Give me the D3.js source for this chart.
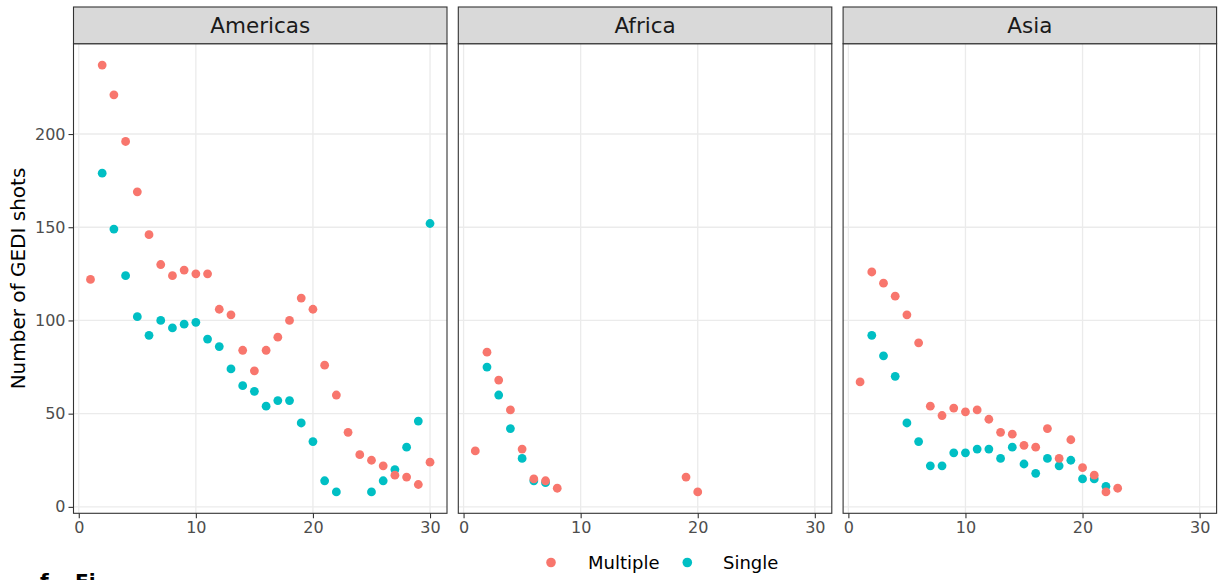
<!DOCTYPE html>
<html>
<head>
<meta charset="utf-8">
<script src="https://cdn.jsdelivr.net/npm/d3@7"></script>
<style>
  html, body { margin: 0; padding: 0; background: #fff; overflow: hidden; }
  svg { display: block; }
  text { font-family: "DejaVu Sans", sans-serif; }
</style>
</head>
<body>
<svg id="chart" width="1219" height="580"></svg>
<script>
// ---- data ----
const regions = ["Americas", "Africa", "Asia"];
const seriesNames = ["Multiple", "Single"];
const xTicks = [0, 10, 20, 30];
const yTicks = [0, 50, 100, 150, 200];

const americasMultipleX = [1,2,3,4,5,6,7,8,9,10,11,12,13,14,15,16,17,18,19,20,21,22,23,24,25,26,27,28,29,30];
const americasMultiple  = [122,237,221,196,169,146,130,124,127,125,125,106,103,84,73,84,91,100,112,106,76,60,40,28,25,22,17,16,12,24];
const americasSingleX   = [2,3,4,5,6,7,8,9,10,11,12,13,14,15,16,17,18,19,20,21,22,25,26,27,28,29,30];
const americasSingle    = [179,149,124,102,92,100,96,98,99,90,86,74,65,62,54,57,57,45,35,14,8,8,14,20,32,46,152];

const africaMultipleX = [1,2,3,4,5,6,7,8,19,20];
const africaMultiple  = [30,83,68,52,31,15,14,10,16,8];
const africaSingleX   = [2,3,4,5,6,7];
const africaSingle    = [75,60,42,26,14,13];

const asiaMultipleX = [1,2,3,4,5,6,7,8,9,10,11,12,13,14,15,16,17,18,19,20,21,22,23];
const asiaMultiple  = [67,126,120,113,103,88,54,49,53,51,52,47,40,39,33,32,42,26,36,21,17,8,10];
const asiaSingleX   = [2,3,4,5,6,7,8,9,10,11,12,13,14,15,16,17,18,19,20,21,22];
const asiaSingle    = [92,81,70,45,35,22,22,29,29,31,31,26,32,23,18,26,22,25,15,15,11];

// ---- build records ----
const panelData = {
  Americas: { Multiple: americasMultipleX.map((x,i)=>({x, y: americasMultiple[i]})),
              Single:   americasSingleX.map((x,i)=>({x, y: americasSingle[i]})) },
  Africa:   { Multiple: africaMultipleX.map((x,i)=>({x, y: africaMultiple[i]})),
              Single:   africaSingleX.map((x,i)=>({x, y: africaSingle[i]})) },
  Asia:     { Multiple: asiaMultipleX.map((x,i)=>({x, y: asiaMultiple[i]})),
              Single:   asiaSingleX.map((x,i)=>({x, y: asiaSingle[i]})) }
};

const color = d3.scaleOrdinal().domain(seriesNames).range(["#F8766D", "#00BFC4"]);

// ---- layout ----
const svg = d3.select("#chart");
const panelLeft = 73.5, panelW = 373.5, gap = 11.3;
const stripTop = 7, stripBottom = 43.7, panelBottom = 513.3;

const allX = [].concat(americasMultipleX, americasSingleX, africaMultipleX, africaSingleX, asiaMultipleX, asiaSingleX);
const allY = [].concat(americasMultiple, americasSingle, africaMultiple, africaSingle, asiaMultiple, asiaSingle);
const [xmin, xmax] = d3.extent(allX), [ymin, ymax] = d3.extent(allY);
const xpad = (xmax - xmin) * 0.05, ypad = (ymax - ymin) * 0.05;

const y = d3.scaleLinear().domain([ymin - ypad, ymax + ypad]).range([panelBottom, stripBottom]);

regions.forEach((reg, i) => {
  const x0 = panelLeft + i * (panelW + gap);
  const x = d3.scaleLinear().domain([xmin - xpad, xmax + xpad]).range([x0, x0 + panelW]);
  const g = svg.append("g");

  // panel background & grid
  g.append("rect").attr("x", x0).attr("y", stripBottom).attr("width", panelW)
    .attr("height", panelBottom - stripBottom).attr("fill", "#fff");
  g.selectAll(".gx").data(xTicks).enter().append("line")
    .attr("x1", d => x(d)).attr("x2", d => x(d))
    .attr("y1", stripBottom).attr("y2", panelBottom)
    .attr("stroke", "#EBEBEB").attr("stroke-width", 1.3);
  g.selectAll(".gy").data(yTicks).enter().append("line")
    .attr("x1", x0).attr("x2", x0 + panelW)
    .attr("y1", d => y(d)).attr("y2", d => y(d))
    .attr("stroke", "#EBEBEB").attr("stroke-width", 1.3);

  // points: Single first, Multiple on top
  ["Single", "Multiple"].forEach(s => {
    g.selectAll(".p" + s).data(panelData[reg][s]).enter().append("circle")
      .attr("cx", d => x(d.x)).attr("cy", d => y(d.y)).attr("r", 4.4)
      .attr("fill", color(s));
  });

  // panel border
  g.append("rect").attr("x", x0).attr("y", stripBottom).attr("width", panelW)
    .attr("height", panelBottom - stripBottom).attr("fill", "none")
    .attr("stroke", "#333333").attr("stroke-width", 1.1);

  // strip
  g.append("rect").attr("x", x0).attr("y", stripTop).attr("width", panelW)
    .attr("height", stripBottom - stripTop).attr("fill", "#D9D9D9")
    .attr("stroke", "#333333").attr("stroke-width", 1.1);
  g.append("text").attr("x", x0 + panelW / 2).attr("y", (stripTop + stripBottom) / 2)
    .attr("dy", "0.36em").attr("text-anchor", "middle")
    .attr("font-size", 21.5).attr("fill", "#1A1A1A").text(reg);

  // x axis
  const xAxis = d3.axisBottom(x).tickValues(xTicks).tickSize(5).tickPadding(3);
  const ax = g.append("g").attr("transform", `translate(0,${panelBottom})`).call(xAxis);
  ax.select(".domain").remove();
  ax.selectAll(".tick line").attr("stroke", "#333333").attr("stroke-width", 1.1);
  ax.selectAll(".tick text").attr("font-size", 16).attr("fill", "#4D4D4D")
    .attr("font-family", "DejaVu Sans, sans-serif");

  if (i === 0) {
    const yAxis = d3.axisLeft(y).tickValues(yTicks).tickSize(5).tickPadding(3);
    const ay = g.append("g").attr("transform", `translate(${x0},0)`).call(yAxis);
    ay.select(".domain").remove();
    ay.selectAll(".tick line").attr("stroke", "#333333").attr("stroke-width", 1.1);
    ay.selectAll(".tick text").attr("font-size", 16).attr("fill", "#4D4D4D")
      .attr("font-family", "DejaVu Sans, sans-serif");
  }
});

// y-axis title
svg.append("text")
  .attr("transform", `translate(25,${(stripBottom + panelBottom) / 2}) rotate(-90)`)
  .attr("text-anchor", "middle").attr("font-size", 20).attr("fill", "#000")
  .text("Number of GEDI shots");

// legend
const legend = svg.append("g");
const legendItems = [
  { name: "Multiple", dotX: 551, textX: 588 },
  { name: "Single", dotX: 687.3, textX: 723 }
];
legendItems.forEach(it => {
  legend.append("circle").attr("cx", it.dotX).attr("cy", 562.5).attr("r", 4.8)
    .attr("fill", color(it.name));
  legend.append("text").attr("x", it.textX).attr("y", 562.5).attr("dy", "0.36em")
    .attr("font-size", 18).attr("fill", "#000").text(it.name);
});

// caption at bottom (clipped by the page edge, as in the reference)
svg.append("text").attr("x", 40).attr("y", 588).attr("font-size", 20)
  .attr("font-weight", "bold").attr("fill", "#000").text("f");
svg.append("text").attr("x", 75).attr("y", 588).attr("font-size", 20)
  .attr("font-weight", "bold").attr("fill", "#000").text("Fi");
</script>
</body>
</html>
